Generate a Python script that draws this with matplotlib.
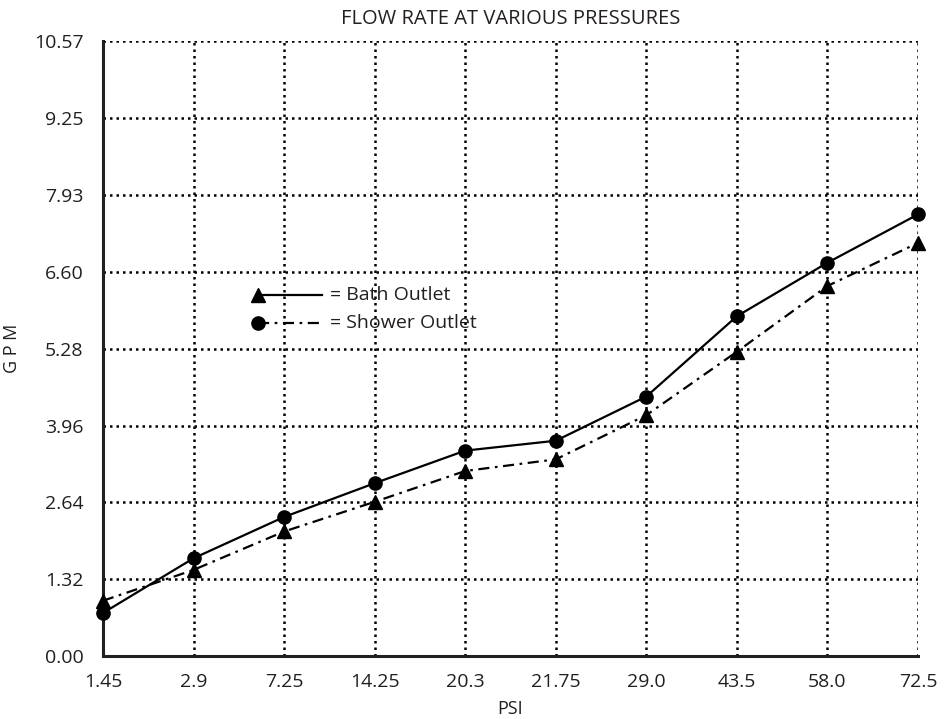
# encoding:utf-8
# Flow rate at various pressures
import matplotlib
matplotlib.use('Agg')
from matplotlib import pyplot as plt

plt.rcParams['font.family'] = ['Open Sans', 'DejaVu Sans']

# 数据
psi_labels = ['1.45', '2.9', '7.25', '14.25', '20.3', '21.75', '29.0', '43.5', '58.0', '72.5']
gpm_ticks = [0.00, 1.32, 2.64, 3.96, 5.28, 6.60, 7.93, 9.25, 10.57]
circle_gpm = [0.74, 1.68, 2.39, 2.97, 3.53, 3.70, 4.46, 5.84, 6.76, 7.59]
triangle_gpm = [0.95, 1.48, 2.14, 2.65, 3.18, 3.38, 4.14, 5.23, 6.36, 7.10]

fig = plt.figure(figsize=(9.44, 7.19), dpi=100)
ax = fig.add_axes([0.1091, 0.0876, 0.8634, 0.8554])

x = list(range(len(psi_labels)))
dashdot = (0, (5, 2.5, 1.2, 2.5))

ax.plot(x, circle_gpm, c='black', lw=1.6, marker='o', ms=9.5, zorder=3, clip_on=False)
ax.plot(x, triangle_gpm, c='black', lw=1.6, ls=dashdot, marker='^', ms=10.5, zorder=3, clip_on=False)

# 图例 (手动绘制)
tr = ax.transAxes
ax.plot([0.190, 0.269], [0.587, 0.587], transform=tr, c='black', lw=1.6)
ax.plot([0.190], [0.587], transform=tr, c='black', marker='^', ms=10.5)
ax.text(0.279, 0.587, '= Bath Outlet', transform=tr, fontsize=14, va='center', color='#231f20')
ax.plot([0.190, 0.269], [0.541, 0.541], transform=tr, c='black', lw=1.6, ls=dashdot)
ax.plot([0.190], [0.541], transform=tr, c='black', marker='o', ms=9.5)
ax.text(0.279, 0.541, '= Shower Outlet', transform=tr, fontsize=14, va='center', color='#231f20')

# 格式
ax.set_xlim(0, len(psi_labels) - 1)
ax.set_ylim(gpm_ticks[0], gpm_ticks[-1])
ax.set_xticks(x)
ax.set_xticklabels(psi_labels)
ax.set_yticks(gpm_ticks)
ax.set_yticklabels(['%.2f' % v for v in gpm_ticks])
ax.tick_params(axis='both', length=0, labelsize=14, colors='#231f20')
ax.tick_params(axis='x', pad=12)
ax.tick_params(axis='y', pad=14)
ax.grid(True, ls=(0, (1, 1.6)), lw=1.8, c='black')
ax.set_axisbelow(True)
for s in ['top', 'right']:
    ax.spines[s].set_visible(False)
for s in ['left', 'bottom']:
    ax.spines[s].set_linewidth(2.2)
    ax.spines[s].set_color('#231f20')
    ax.spines[s].set_zorder(2.5)

ax.set_title('FLOW RATE AT VARIOUS PRESSURES', fontsize=14.5, color='#231f20', pad=12)
ax.set_xlabel('PSI', fontsize=13, color='#231f20', labelpad=7)
ax.set_ylabel('G P M', fontsize=13, color='#231f20', labelpad=9)

plt.savefig('out.png', dpi=100)
